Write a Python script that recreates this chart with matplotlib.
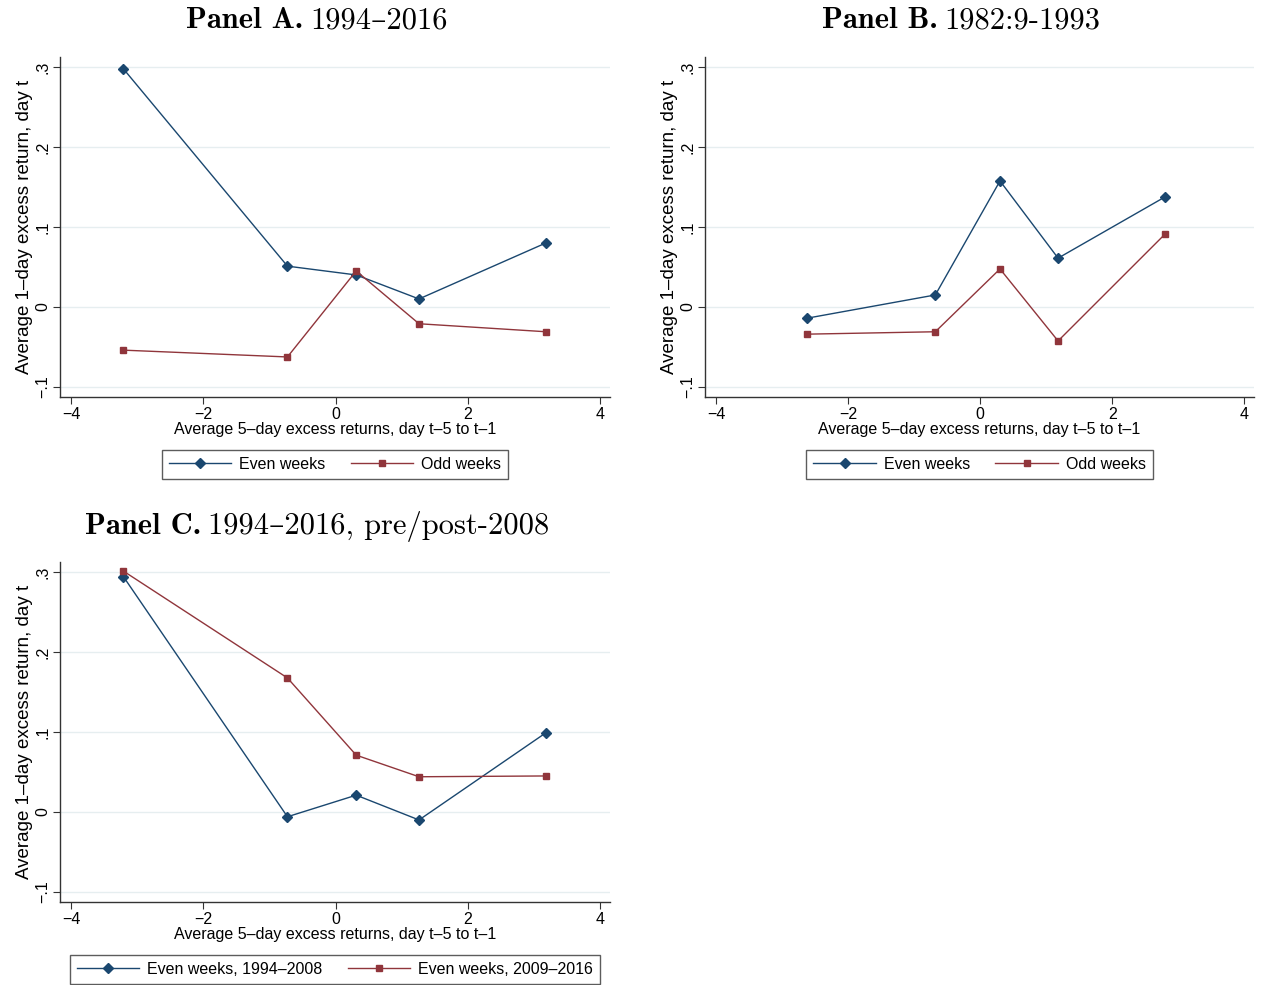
import matplotlib
matplotlib.use("Agg")
import matplotlib.pyplot as plt

plt.rcParams["font.family"] = ["Liberation Sans", "DejaVu Sans"]

NAVY = "#1a476f"
MAROON = "#90353b"
GRID = "#e6eef0"

# Panel A: 1994-2016
a_x = [-3.21, -0.73, 0.31, 1.26, 3.18]
a_even = [0.2975, 0.051, 0.040, 0.010, 0.080]
a_odd = [-0.054, -0.0625, 0.045, -0.021, -0.031]

# Panel B: 1982:9-1993
b_x = [-2.62, -0.68, 0.30, 1.18, 2.80]
b_even = [-0.014, 0.015, 0.1575, 0.061, 0.1375]
b_odd = [-0.034, -0.031, 0.0475, -0.0425, 0.091]

# Panel C: pre/post 2008
c_x = [-3.21, -0.73, 0.31, 1.26, 3.18]
c_pre = [0.294, -0.006, 0.021, -0.010, 0.099]
c_post = [0.301, 0.1675, 0.071, 0.044, 0.045]

xticks = [-4, -2, 0, 2, 4]
xticklabels = ["\u22124", "\u22122", "0", "2", "4"]
yticks = [-0.1, 0, 0.1, 0.2, 0.3]
yticklabels = ["\u2212.1", "0", ".1", ".2", ".3"]

fig = plt.figure(figsize=(12.61, 9.85), dpi=100)
renderer = fig.canvas.get_renderer()

TSIZE = 22
SERIF_R = ["cmr10", "DejaVu Serif"]
SERIF_B = ["cmb10", "DejaVu Serif"]


def title(cx, cy, bold, rest):
	# two pieces: bold "Panel X." then regular period text, centred together
	t1 = fig.text(0, cy, bold, fontfamily=SERIF_B, fontsize=TSIZE, va="center", ha="left")
	t2 = fig.text(0, cy, rest, fontfamily=SERIF_R, fontsize=TSIZE, va="center", ha="left")
	w1 = t1.get_window_extent(renderer).width / fig.bbox.width
	w2 = t2.get_window_extent(renderer).width / fig.bbox.width
	gap = 7 / fig.bbox.width
	x0 = cx - (w1 + gap + w2) / 2
	t1.set_x(x0)
	t2.set_x(x0 + w1 + gap)


def panel(rect, x, y1, y2, lab1, lab2):
	ax = fig.add_axes(rect)
	ax.plot(x, y1, color=NAVY, lw=1.0, marker="D", ms=5, label=lab1)
	ax.plot(x, y2, color=MAROON, lw=1.0, marker="s", ms=5, label=lab2)
	ax.set_xlim(-4.17, 4.15)
	ax.set_ylim(-0.1125, 0.3125)
	ax.set_xticks(xticks)
	ax.set_xticklabels(xticklabels, fontsize=11.5)
	ax.set_yticks(yticks)
	ax.set_yticklabels(yticklabels, fontsize=11.5, rotation=90, va="center")
	for t in yticks:
		ax.axhline(t, color=GRID, lw=1.0, zorder=0)
	ax.spines["top"].set_visible(False)
	ax.spines["right"].set_visible(False)
	for s in ["left", "bottom"]:
		ax.spines[s].set_color("#333333")
		ax.spines[s].set_linewidth(1.0)
	ax.tick_params(direction="out", length=5, width=0.8, color="#333333", pad=2)
	ax.set_xlabel("Average 5\u2013day excess returns, day t\u20135 to t\u20131", fontsize=11.5, labelpad=0)
	ax.set_ylabel("Average 1\u2013day excess return, day t", fontsize=13.5, labelpad=2)
	leg = ax.legend(loc="upper center", bbox_to_anchor=(0.5, -0.132), ncol=2,
		frameon=True, fancybox=False, edgecolor="#333333", fontsize=11.5,
		handlelength=3.9, columnspacing=1.6, borderpad=0.45, handletextpad=0.5)
	leg.get_frame().set_linewidth(1.0)
	return ax


panel([0.0476, 0.5970, 0.4362, 0.3452], a_x, a_even, a_odd, "Even weeks", "Odd weeks")
panel([0.5591, 0.5970, 0.4354, 0.3452], b_x, b_even, b_odd, "Even weeks", "Odd weeks")
panel([0.0476, 0.0843, 0.4362, 0.3452], c_x, c_pre, c_post,
	"Even weeks, 1994\u20132008", "Even weeks, 2009\u20132016")

title(317 / 1261, 1 - 21 / 985, "Panel A.", "1994\u20132016")
title(961 / 1261, 1 - 21 / 985, "Panel B.", "1982:9-1993")
title(317 / 1261, 1 - 526 / 985, "Panel C.", "1994\u20132016, pre/post-2008")

fig.savefig("out.png", dpi=100, facecolor="white")
